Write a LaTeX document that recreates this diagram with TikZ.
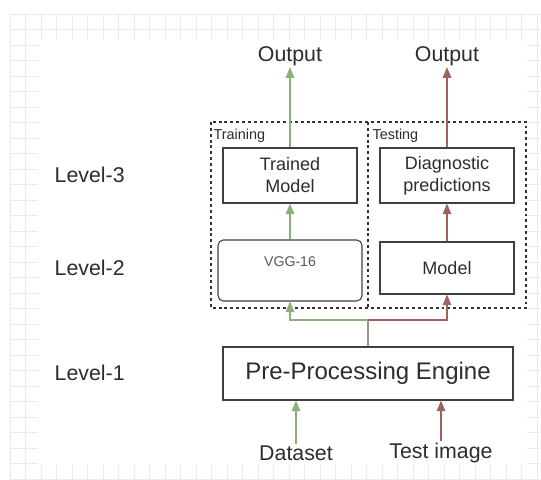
\documentclass[tikz,border=0pt]{standalone}
\usepackage{fontspec}
\setmainfont{Liberation Sans}
\usepackage{xcolor}
\usepackage{tikz}
\usetikzlibrary{shapes,arrows,positioning}
\definecolor{trainc}{RGB}{140,176,124}
\definecolor{testc}{RGB}{156,100,94}
\definecolor{linec}{RGB}{150,150,140}
\definecolor{gridc}{RGB}{234,234,234}
\definecolor{txtc}{RGB}{45,45,45}

\begin{document}
\begin{tikzpicture}[x=0.75pt,y=-0.75pt,>=triangle 45,text=txtc]
    \tikzstyle{box}=[draw=black!75,line width=1pt,align=center,inner sep=0pt,font=\fontsize{13.5}{16.5}\selectfont]
    \tikzstyle{level}=[anchor=west,font=\fontsize{16}{19}\selectfont]
    \tikzstyle{io}=[font=\fontsize{16}{19}\selectfont,inner sep=1pt]
    \tikzstyle{phase}=[anchor=west,font=\fontsize{10.8}{13}\selectfont,inner sep=1pt]
    \tikzstyle{dashbox}=[draw=black!80,line width=0.9pt,dash pattern=on 2.2pt off 2.2pt]
    \tikzstyle{trainarr}=[->,draw=trainc,line width=0.8pt]
    \tikzstyle{testarr}=[->,draw=testc,line width=0.8pt]

    \useasboundingbox (0,0) rectangle (541,479);

    % faint canvas grid round the border
    \foreach \x in {10,25.5,...,541}
        \draw[gridc,line width=0.4pt] (\x,14) -- (\x,479);
    \foreach \y in {14,29.5,...,479}
        \draw[gridc,line width=0.4pt] (10,\y) -- (541,\y);
    \fill[white] (38,40) rectangle (527,465);

    % Level labels
    \node[level] (L3) at (50,175) {Level-3};
    \node[level] (L2) at (50,268) {Level-2};
    \node[level] (L1) at (50,373) {Level-1};

    % Training / testing frame
    \draw[dashbox] (211,122) rectangle (526,308);
    \draw[dashbox] (368,122) -- (368,308);
    \node[phase] (train) at (212,136) {Training};
    \node[phase] (test) at (371,136) {Testing};

    % Boxes
    \node[box,minimum width=100.5pt,minimum height=41.25pt] (trained) at (290,175.5) {Trained\\Model};
    \node[box,minimum width=100.5pt,minimum height=41.25pt] (diag) at (447,175.5) {Diagnostic\\predictions};
    \node[draw=black!75,line width=0.8pt,rounded corners=4pt,minimum width=108pt,minimum height=45.75pt] (vgg) at (290,270.5) {};
    \node[anchor=north,font=\fontsize{10.6}{13}\selectfont,text=black!65] (vggtxt) at ([yshift=-9pt]vgg.north) {VGG-16};
    \node[box,minimum width=100.5pt,minimum height=39pt] (model) at (447,268) {Model};
    \node[box,minimum width=217.5pt,minimum height=39.75pt,font=\fontsize{18}{21}\selectfont] (pre) at (368,373.5) {Pre-Processing Engine};

    % Inputs and outputs
    \node[io] (data) at (296,453) {Dataset};
    \node[io] (timg) at (441,453) {Test image};
    \node[io] (out1) at (290,56) {Output};
    \node[io] (out2) at (447,56) {Output};

    % Connections
    \coordinate (split) at (368,320);
    \draw[trainarr] (data) -- (data |- pre.south);
    \draw[testarr] (timg) -- (timg |- pre.south);
    \draw[linec,line width=0.8pt] (pre.north) -- (split);
    \draw[trainarr] (split) -| (vgg.south);
    \draw[testarr] (split) -| (model.south);
    \draw[trainarr] (vgg.north) -- (trained.south);
    \draw[trainarr] (trained) -- (out1);
    \draw[testarr] (model) -- (diag);
    \draw[testarr] (diag) -- (out2);

\end{tikzpicture}
\end{document}
